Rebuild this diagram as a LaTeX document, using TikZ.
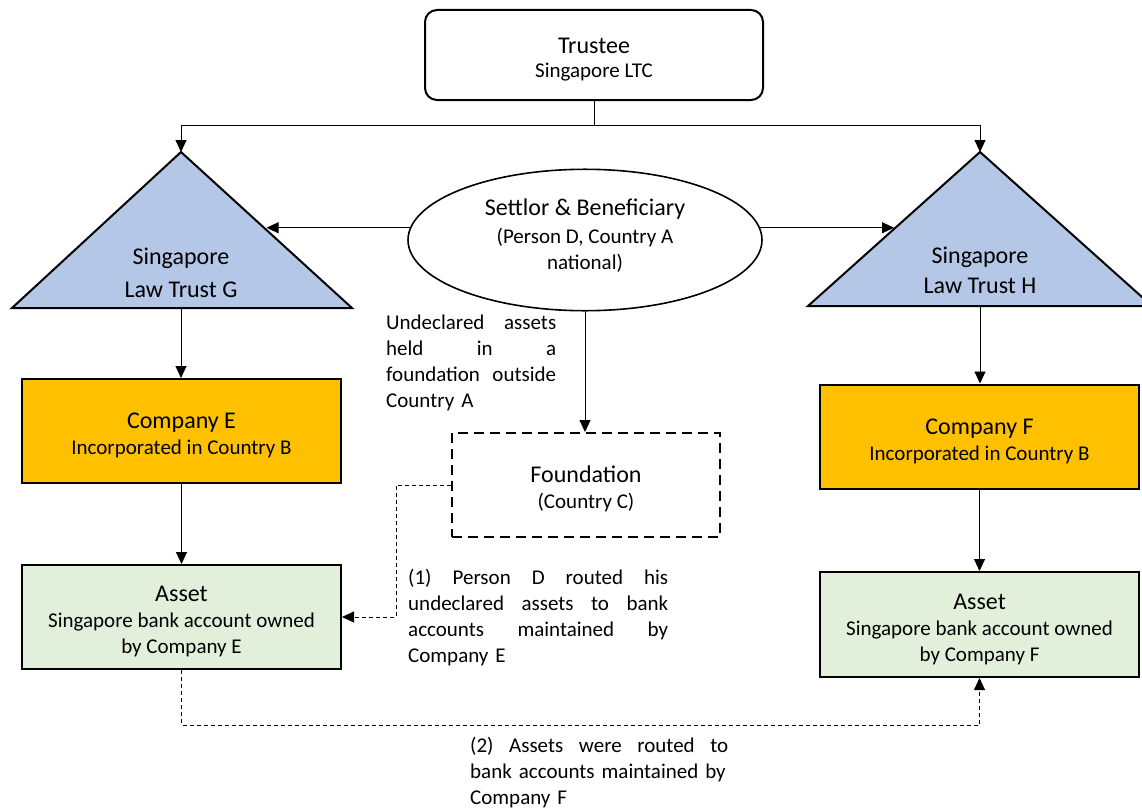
\documentclass[tikz,border=0pt]{standalone}
\usepackage{fontspec}
\setmainfont{Carlito}
\usetikzlibrary{shapes.geometric,arrows.meta,calc}

\definecolor{trustblue}{HTML}{B4C7E7}
\definecolor{compyellow}{HTML}{FFC000}
\definecolor{assetgreen}{HTML}{E2EFDA}

\newcommand{\hd}[1]{{\fontsize{24}{30}\selectfont\rule{0pt}{25pt}#1}}

\begin{document}
\begin{tikzpicture}[x=1pt,y=-1pt,
    arr/.style={-{Triangle[length=12pt,width=11pt]},line width=0.9pt},
    dsh/.style={dash pattern=on 4pt off 3pt,line width=0.9pt},
    note/.style={anchor=north west,inner sep=0pt,align=left,font=\fontsize{21}{26}\selectfont}]

      \useasboundingbox (0,0) rectangle (1142,808);

      % the two trusts
      \coordinate (gtop) at (181,152);
      \coordinate (gleft) at (12,308);
      \coordinate (gright) at (352,308);
      \coordinate (gbot) at (181,308);
      \coordinate (htop) at (980,152);
      \coordinate (hleft) at (808,306);
      \coordinate (hright) at (1152,306);
      \coordinate (hbot) at (980,306);
      \draw[fill=trustblue,line width=2pt] (gtop) -- (gright) -- (gleft) -- cycle;
      \draw[fill=trustblue,line width=2pt] (htop) -- (hright) -- (hleft) -- cycle;
      \coordinate (gedge) at ($(gtop)!0.5!(gright)$);
      \coordinate (hedge) at ($(htop)!0.5!(hleft)$);

      \begin{scope}[every node/.style={align=center,font=\fontsize{21}{26}\selectfont}]
        \node (trustee) at (594,55) [draw,line width=2pt,rounded corners=12pt,
          minimum width=338pt,minimum height=90pt] {\hd{Trustee}\\[-2pt]Singapore LTC};
        \node (settlor) at (585,240) [draw,ellipse,line width=1.6pt,inner sep=0pt,
          minimum width=354pt,minimum height=120pt]
          {\hd{Settlor \& Beneficiary}\\[2pt](Person D, Country A\\national)\rule[-21pt]{0pt}{0pt}};
        \node (trustG) at (181,273) [font=\fontsize{24}{33}\selectfont] {Singapore\\Law Trust G};
        \node (trustH) at (980,270) [font=\fontsize{24}{30}\selectfont] {Singapore\\Law Trust H};
        \node (found) at (586,485) [draw,line width=2pt,dash pattern=on 10pt off 6pt,
          minimum width=268pt,minimum height=104pt] {\hd{Foundation}\\(Country C)};
      \end{scope}

      \begin{scope}[every node/.style={draw,line width=2pt,align=center,inner sep=0pt,
          minimum width=319pt,minimum height=104pt,font=\fontsize{21}{26}\selectfont}]
        \node (compE) at (181.5,431) [fill=compyellow] {\hd{Company E}\\Incorporated in Country B};
        \node (compF) at (979.5,436.5) [fill=compyellow] {\hd{Company F}\\Incorporated in Country B};
        \node (assetE) at (181.5,617) [fill=assetgreen] {\hd{Asset}\\Singapore bank account owned\\by Company E};
        \node (assetF) at (979.5,624.5) [fill=assetgreen,minimum height=105pt] {\hd{Asset}\\Singapore bank account owned\\by Company F};
      \end{scope}

      \node (undecl) at (386,315) [note,text width=170pt]
        {Undeclared\hfill assets\\held\hfill in\hfill a\\foundation\hfill outside\\Country A};
      \node (route1) at (408,569) [note,text width=260pt]
        {(1)\hfill Person\hfill D\hfill routed\hfill his\\undeclared\hfill assets\hfill to\hfill bank\\accounts\hfill maintained\hfill by\\Company E};
      \node (route2) at (470,737) [note,text width=258pt]
        {(2)\hfill Assets\hfill were\hfill routed\hfill to\\bank accounts maintained by\\Company F};

      % solid connectors
      \coordinate (split) at (594,125);
      \draw[line width=0.9pt] (trustee.south) -- (split);
      \draw[arr] (split) -| (gtop);
      \draw[arr] (split) -| (htop);
      \draw[arr] (settlor.176) -- (settlor.176 -| gedge);
      \draw[arr] (settlor.4) -- (settlor.4 -| hedge);
      \draw[arr] (settlor.south) -- (settlor.south |- found.north);
      \draw[arr] (gbot) -- (gbot |- compE.north);
      \draw[arr] (hbot) -- (hbot |- compF.north);
      \draw[arr] (compE.south) -- (assetE.north);
      \draw[arr] (compF.south) -- (assetF.north);

      % dashed routes
      \draw[dsh,arr] (found.west) -- ++(-55,0) |- (assetE.east);
      \draw[dsh,arr] (assetE.south) -- ++(0,55) -| (assetF.south);

    \end{tikzpicture}
\end{document}
